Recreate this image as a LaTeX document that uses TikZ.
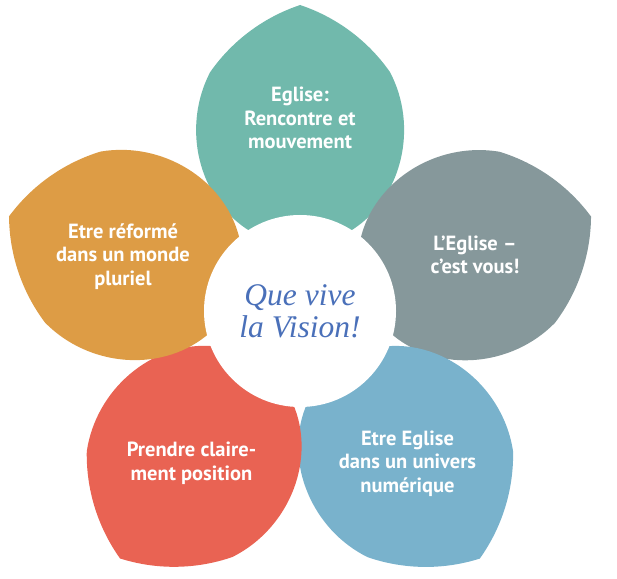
\documentclass[tikz,border=0pt]{standalone}
\usepackage{fontspec}
\newfontfamily\lblfont{PT Sans}
\newfontfamily\hubfont{Liberation Serif}
\definecolor{cteal}{HTML}{71B9AC}
\definecolor{cgrey}{HTML}{86989B}
\definecolor{cblue}{HTML}{79B2CC}
\definecolor{cred}{HTML}{E96353}
\definecolor{corange}{HTML}{DD9C45}
\definecolor{cvision}{HTML}{4A70B9}
\tikzset{
  lbl/.style={text=white, align=center, inner sep=0pt,
    font=\lblfont\bfseries\fontsize{20.5}{23.5}\selectfont},
  hub/.style={circle, fill=white, minimum size=192pt, inner sep=0pt,
    align=center, text=cvision,
    font=\hubfont\itshape\fontsize{31.5}{32}\selectfont},
}
% petal: ellipse body (semi-axes 104 across, 115.3 along the axis, centred 181
% from the flower centre) capped by two arcs that meet in a point 306 out.
% #1 colour, #2 direction of the point
\newcommand\mypetal[2]{%
  \pgfmathsetmacro\petRot{#2-90}%
  \begin{scope}[shift={(300,267)}, rotate=\petRot]
    \fill[#1] (0,306)
      arc[start angle=71.6, end angle=35.0, radius=178.7]
      arc[start angle=30.2, end angle=-210.2, x radius=104, y radius=115.3]
      arc[start angle=145.0, end angle=108.4, radius=178.7]
      -- cycle;
  \end{scope}}
\begin{document}
\begin{tikzpicture}[x=1pt, y=1pt]
  \useasboundingbox (0,0) rectangle (617,578);
  \mypetal{cteal}{90}
  \mypetal{cgrey}{18}
  \mypetal{cblue}{-54}
  \mypetal{cred}{-126}
  \mypetal{corange}{162}
  \node[hub] (hub) at (300,267) {Que vive\\la Vision!};
  \node[lbl] (t1) at (300,460) {Eglise:\\Rencontre et\\mouvement};
  \node[lbl] (t2) at (475,323) {L’Eglise –\\c’est vous!};
  \node[lbl] (t3) at (407.5,114.5) {Etre Eglise\\dans un univers\\numérique};
  \node[lbl] (t4) at (191.5,114.5) {Prendre claire-\\ment position};
  \node[lbl] (t5) at (123,321.5) {Etre réformé\\dans un monde\\pluriel};
\end{tikzpicture}
\end{document}
